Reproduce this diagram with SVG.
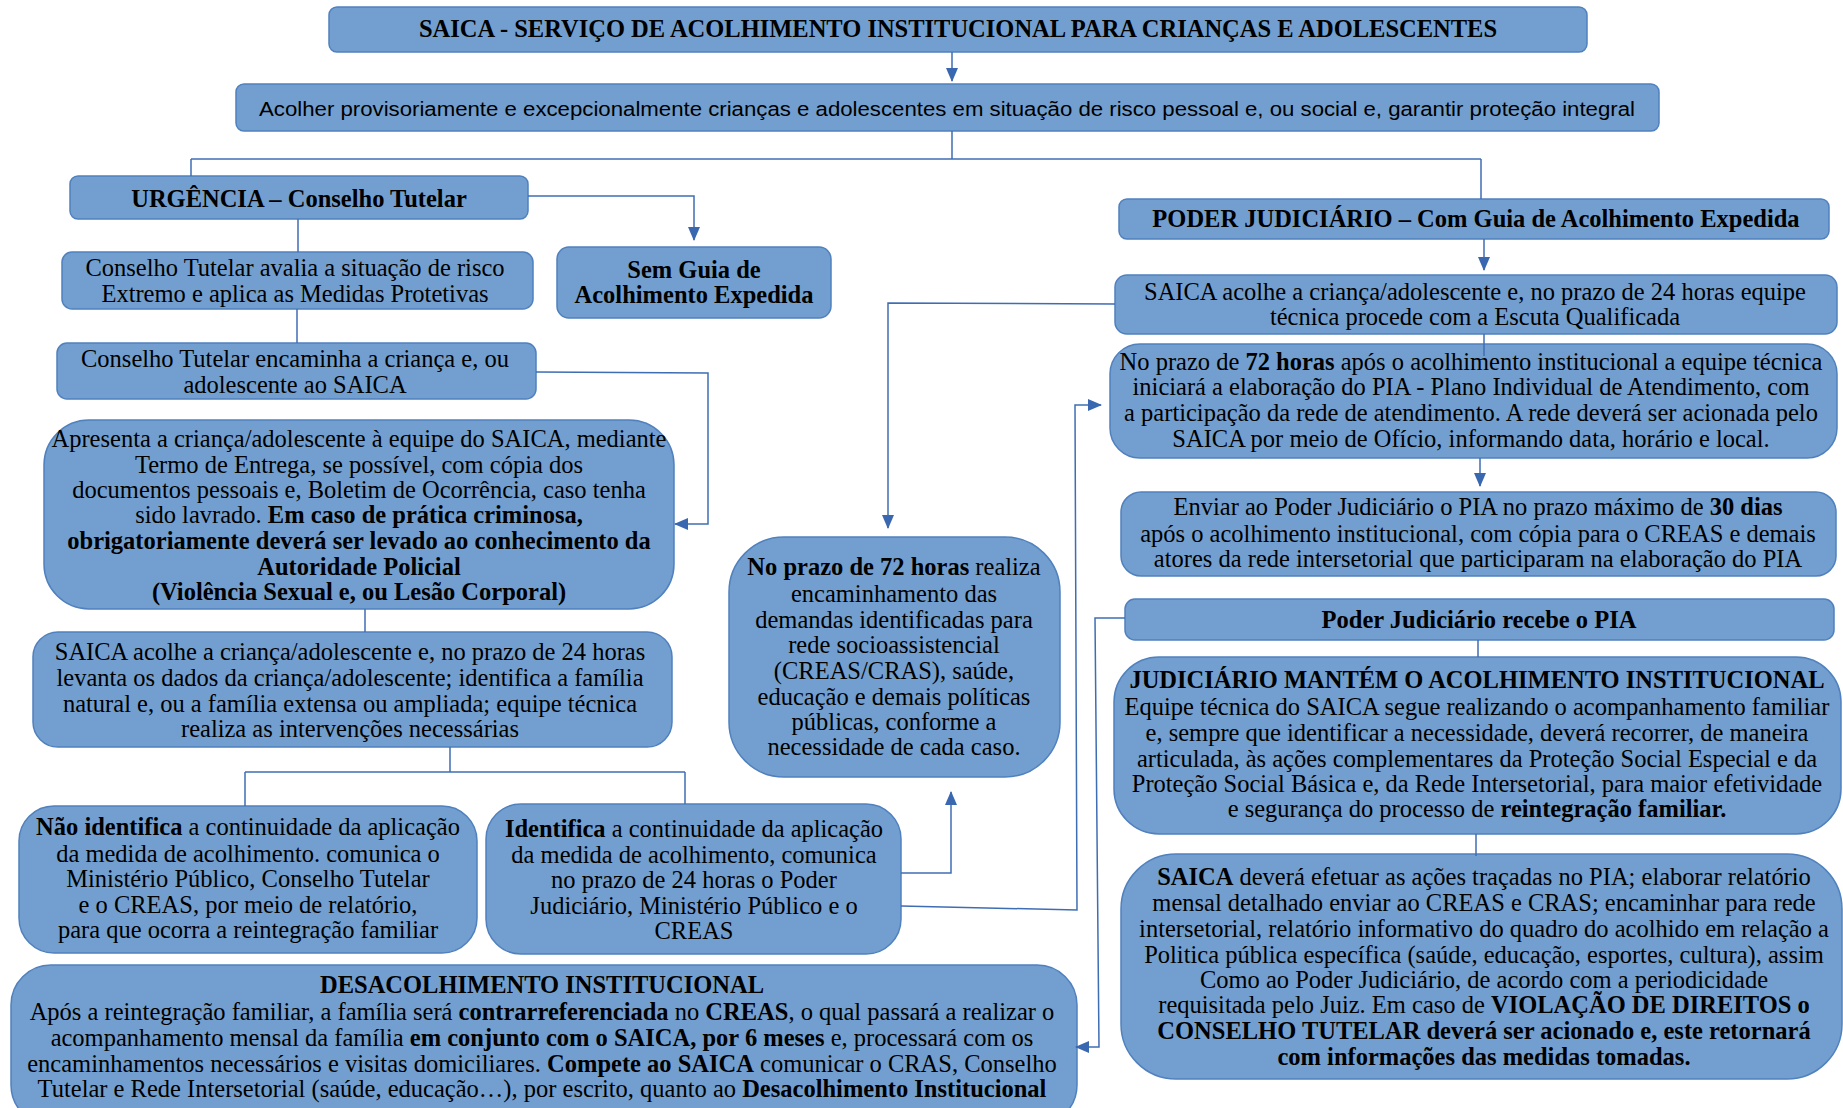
<svg xmlns="http://www.w3.org/2000/svg" width="1843" height="1108" viewBox="0 0 1843 1108">
<style>
.box{fill:#729fcf;stroke:#5081be;stroke-width:1.5}
.t{font-family:"Liberation Serif","Times New Roman",serif;font-size:24.5px;fill:#000;text-anchor:middle}
.s{font-family:"Liberation Sans",Arial,sans-serif;font-size:20px;fill:#000;text-anchor:middle}
.b{font-weight:bold}
.c{fill:none;stroke:#3f6db4;stroke-width:1.5}
.ca{fill:none;stroke:#3f6db4;stroke-width:1.5;marker-end:url(#ah)}
</style>
<defs>
<marker id="ah" markerUnits="userSpaceOnUse" markerWidth="14" markerHeight="12" refX="13" refY="6" orient="auto">
<path d="M0,0 L14,6 L0,12 Z" fill="#3a68b0"/>
</marker>
</defs>
<rect width="1843" height="1108" fill="#fff"/>

<g id="n-title"><rect class="box" x="329" y="7" width="1258" height="45" rx="8"/>
<text class="t b" x="958" y="37" font-size="23" textLength="1078" lengthAdjust="spacingAndGlyphs">SAICA - SERVIÇO DE ACOLHIMENTO INSTITUCIONAL PARA CRIANÇAS E ADOLESCENTES</text></g>

<g id="n-objetivo"><rect class="box" x="236" y="84" width="1423" height="47" rx="8"/>
<text class="s" x="947" y="116" textLength="1376" lengthAdjust="spacingAndGlyphs">Acolher provisoriamente e excepcionalmente crianças e adolescentes em situação de risco pessoal e, ou social e, garantir proteção integral</text></g>

<g id="n-urgencia"><rect class="box" x="70" y="176" width="458" height="43" rx="8"/>
<text class="t b" x="299" y="207">URGÊNCIA – Conselho Tutelar</text></g>

<g id="n-semguia"><rect class="box" x="557" y="247" width="274" height="71" rx="12"/>
<text class="t b" x="694" y="278">Sem Guia de</text>
<text class="t b" x="694" y="303">Acolhimento Expedida</text></g>

<g id="n-avalia"><rect class="box" x="62" y="252" width="471" height="57" rx="10"/>
<text class="t" x="295" y="276">Conselho Tutelar avalia a situação de risco</text>
<text class="t" x="295" y="302">Extremo e aplica as Medidas Protetivas</text></g>

<g id="n-encaminha"><rect class="box" x="57" y="343" width="479" height="56" rx="10"/>
<text class="t" x="295" y="367">Conselho Tutelar encaminha a criança e, ou</text>
<text class="t" x="295" y="393">adolescente ao SAICA</text></g>

<g id="n-apresenta"><rect class="box" x="44" y="420" width="630" height="189" rx="45"/>
<text class="t" x="359" y="447">Apresenta a criança/adolescente à equipe do SAICA, mediante</text>
<text class="t" x="359" y="473">Termo de Entrega, se possível, com cópia dos</text>
<text class="t" x="359" y="498">documentos pessoais e, Boletim de Ocorrência, caso tenha</text>
<text class="t" x="359" y="523">sido lavrado. <tspan class="b">Em caso de prática criminosa,</tspan></text>
<text class="t b" x="359" y="549">obrigatoriamente deverá ser levado ao conhecimento da</text>
<text class="t b" x="359" y="575">Autoridade Policial</text>
<text class="t b" x="359" y="600">(Violência Sexual e, ou Lesão Corporal)</text></g>

<g id="n-acolhe-esq"><rect class="box" x="33" y="632" width="639" height="115" rx="25"/>
<text class="t" x="350" y="660">SAICA acolhe a criança/adolescente e, no prazo de 24 horas</text>
<text class="t" x="350" y="686">levanta os dados da criança/adolescente; identifica a família</text>
<text class="t" x="350" y="712">natural e, ou a família extensa ou ampliada; equipe técnica</text>
<text class="t" x="350" y="737">realiza as intervenções necessárias</text></g>

<g id="n-nao-identifica"><rect class="box" x="19" y="806" width="458" height="147" rx="35"/>
<text class="t" x="248" y="835"><tspan class="b">Não identifica</tspan> a continuidade da aplicação</text>
<text class="t" x="248" y="862">da medida de acolhimento. comunica o</text>
<text class="t" x="248" y="887">Ministério Público, Conselho Tutelar</text>
<text class="t" x="248" y="913">e o CREAS, por meio de relatório,</text>
<text class="t" x="248" y="938">para que ocorra a reintegração familiar</text></g>

<g id="n-identifica"><rect class="box" x="486" y="804" width="415" height="150" rx="35"/>
<text class="t" x="694" y="837"><tspan class="b">Identifica</tspan> a continuidade da aplicação</text>
<text class="t" x="694" y="863">da medida de acolhimento, comunica</text>
<text class="t" x="694" y="888">no prazo de 24 horas o Poder</text>
<text class="t" x="694" y="914">Judiciário, Ministério Público e o</text>
<text class="t" x="694" y="939">CREAS</text></g>

<g id="n-72h-encaminha"><rect class="box" x="729" y="537" width="331" height="240" rx="55"/>
<text class="t" x="894" y="575"><tspan class="b">No prazo de 72 horas</tspan> realiza</text>
<text class="t" x="894" y="602">encaminhamento das</text>
<text class="t" x="894" y="628">demandas identificadas para</text>
<text class="t" x="894" y="653">rede socioassistencial</text>
<text class="t" x="894" y="679">(CREAS/CRAS), saúde,</text>
<text class="t" x="894" y="705">educação e demais políticas</text>
<text class="t" x="894" y="730">públicas, conforme a</text>
<text class="t" x="894" y="755">necessidade de cada caso.</text></g>

<g id="n-poder"><rect class="box" x="1119" y="199" width="710" height="40" rx="8"/>
<text class="t b" x="1476" y="227">PODER JUDICIÁRIO – Com Guia de Acolhimento Expedida</text></g>

<g id="n-acolhe-dir"><rect class="box" x="1115" y="275" width="722" height="59" rx="12"/>
<text class="t" x="1475" y="300">SAICA acolhe a criança/adolescente e, no prazo de 24 horas equipe</text>
<text class="t" x="1475" y="325">técnica procede com a Escuta Qualificada</text></g>

<g id="n-pia"><rect class="box" x="1110" y="344" width="727" height="114" rx="30"/>
<text class="t" x="1471" y="370">No prazo de <tspan class="b">72 horas</tspan> após o acolhimento institucional a equipe técnica</text>
<text class="t" x="1471" y="395">iniciará a elaboração do PIA - Plano Individual de Atendimento, com</text>
<text class="t" x="1471" y="421">a participação da rede de atendimento. A rede deverá ser acionada pelo</text>
<text class="t" x="1471" y="447">SAICA por meio de Ofício, informando data, horário e local.</text></g>

<g id="n-enviar"><rect class="box" x="1121" y="492" width="715" height="84" rx="20"/>
<text class="t" x="1478" y="515">Enviar ao Poder Judiciário o PIA no prazo máximo de <tspan class="b">30 dias</tspan></text>
<text class="t" x="1478" y="542">após o acolhimento institucional, com cópia para o CREAS e demais</text>
<text class="t" x="1478" y="567">atores da rede intersetorial que participaram na elaboração do PIA</text></g>

<g id="n-recebe"><rect class="box" x="1125" y="599" width="709" height="41" rx="10"/>
<text class="t b" x="1479" y="628">Poder Judiciário recebe o PIA</text></g>

<g id="n-mantem"><rect class="box" x="1114" y="657" width="727" height="177" rx="45"/>
<text class="t b" x="1477" y="688">JUDICIÁRIO MANTÉM O ACOLHIMENTO INSTITUCIONAL</text>
<text class="t" x="1477" y="715">Equipe técnica do SAICA segue realizando o acompanhamento familiar</text>
<text class="t" x="1477" y="741">e, sempre que identificar a necessidade, deverá recorrer, de maneira</text>
<text class="t" x="1477" y="767">articulada, às ações complementares da Proteção Social Especial e da</text>
<text class="t" x="1477" y="792">Proteção Social Básica e, da Rede Intersetorial, para maior efetividade</text>
<text class="t" x="1477" y="817">e segurança do processo de <tspan class="b">reintegração familiar.</tspan></text></g>

<g id="n-saica-devera"><rect class="box" x="1121" y="854" width="721" height="225" rx="55"/>
<text class="t" x="1484" y="885"><tspan class="b">SAICA</tspan> deverá efetuar as ações traçadas no PIA; elaborar relatório</text>
<text class="t" x="1484" y="911">mensal detalhado enviar ao CREAS e CRAS;  encaminhar para rede</text>
<text class="t" x="1484" y="937">intersetorial, relatório informativo do quadro do acolhido em relação a</text>
<text class="t" x="1484" y="963">Politica pública específica (saúde, educação, esportes, cultura), assim</text>
<text class="t" x="1484" y="988">Como ao Poder Judiciário, de acordo com a periodicidade</text>
<text class="t" x="1484" y="1013">requisitada pelo Juiz. Em caso de <tspan class="b">VIOLAÇÃO DE DIREITOS o</tspan></text>
<text class="t b" x="1484" y="1039">CONSELHO TUTELAR deverá ser acionado e, este retornará</text>
<text class="t b" x="1484" y="1065">com informações das medidas tomadas.</text></g>

<g id="n-desacolhimento"><rect class="box" x="11" y="965" width="1066" height="160" rx="40"/>
<text class="t b" x="542" y="993">DESACOLHIMENTO INSTITUCIONAL</text>
<text class="t" x="542" y="1020">Após a reintegração familiar, a família será <tspan class="b">contrarreferenciada</tspan> no <tspan class="b">CREAS</tspan>, o qual passará a realizar o</text>
<text class="t" x="542" y="1046">acompanhamento mensal da família <tspan class="b">em conjunto com o SAICA, por 6 meses</tspan> e, processará com os</text>
<text class="t" x="542" y="1072">encaminhamentos necessários e visitas domiciliares. <tspan class="b">Compete ao SAICA</tspan> comunicar o CRAS, Conselho</text>
<text class="t" x="542" y="1097">Tutelar e Rede Intersetorial (saúde, educação…), por escrito, quanto ao <tspan class="b">Desacolhimento Institucional</tspan></text></g>

<g id="connectors">
<path class="ca" d="M952,52 L952,81"/>
<path class="c" d="M952,131 L952,159 M191,159 L1481,159 M191,159 L191,176 M1481,159 L1481,199"/>
<path class="ca" d="M528,196 L694,196 L694,240"/>
<path class="c" d="M298,219 L298,252"/>
<path class="c" d="M297,309 L297,343"/>
<path class="ca" d="M536,372 L708,373 L708,524 L675,524"/>
<path class="c" d="M365,609 L365,632"/>
<path class="c" d="M450,747 L450,772 M245,772 L685,772 M245,772 L245,806 M685,772 L685,804"/>
<path class="ca" d="M901,873 L951,873 L951,792"/>
<path class="ca" d="M901,906 L1077,910 L1075,405 L1101,405"/>
<path class="ca" d="M1484,239 L1484,270"/>
<path class="ca" d="M1115,304 L888,303 L888,528"/>
<path class="c" d="M1484,334 L1484,356"/>
<path class="ca" d="M1480,458 L1480,486"/>
<path class="ca" d="M1125,618 L1095,618 L1099,1047 L1076,1047"/>
<path class="c" d="M1478,640 L1478,657"/>
<path class="c" d="M1476,834 L1476,856"/>
</g>
</svg>
